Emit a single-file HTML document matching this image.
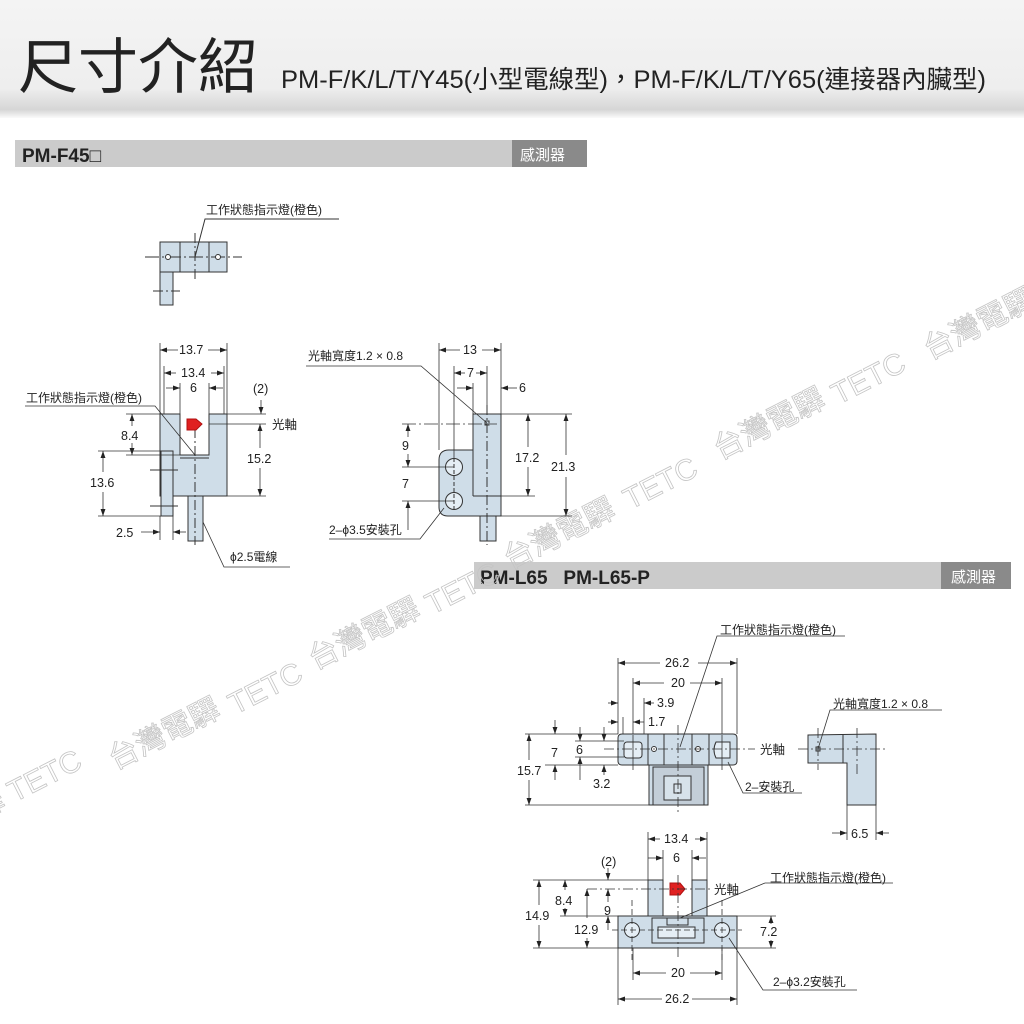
<!DOCTYPE html>
<html><head><meta charset="utf-8"><style>
html,body{margin:0;padding:0;background:#fff;width:1024px;height:1024px;overflow:hidden}
svg{display:block}
text{font-family:"Liberation Sans","Noto Sans CJK TC",sans-serif;fill:#222}
</style></head><body>
<svg width="1024" height="1024" viewBox="0 0 1024 1024" xmlns="http://www.w3.org/2000/svg">
<defs>
<linearGradient id="hg" x1="0" y1="0" x2="0" y2="1">
<stop offset="0" stop-color="#f4f4f4"/><stop offset="0.75" stop-color="#eeeeee"/><stop offset="0.93" stop-color="#d6d6d6"/><stop offset="1" stop-color="#fafafa"/></linearGradient>
<marker id="a" viewBox="0 0 10 10" refX="10" refY="5" markerWidth="7" markerHeight="7" orient="auto-start-reverse" markerUnits="userSpaceOnUse"><path d="M0,1.5 L10,5 L0,8.5z" fill="#222"/></marker>
</defs>
<rect x="0" y="0" width="1024" height="118" fill="url(#hg)"/>
<text x="18" y="88" font-size="60" style="font-family:'Noto Sans CJK TC',sans-serif" fill="#111">尺寸介紹</text>
<text x="281" y="88" font-size="25" textLength="705" lengthAdjust="spacingAndGlyphs" style="font-family:'Liberation Sans Narrow','Liberation Sans','Noto Sans CJK TC',sans-serif">PM-F/K/L/T/Y45(小型電線型)，PM-F/K/L/T/Y65(連接器內臟型)</text>

<!-- bars -->
<rect x="15" y="140" width="572" height="27" fill="#cbcbcb"/>
<rect x="512" y="140" width="75" height="27" fill="#8a8a8a"/>
<text x="22" y="162" font-size="19" font-weight="bold">PM-F45□</text>
<text x="520" y="160" font-size="15" style="fill:#fff">感測器</text>
<rect x="474" y="562" width="537" height="27" fill="#cbcbcb"/>
<rect x="941" y="562" width="70" height="27" fill="#8a8a8a"/>
<text x="480" y="584" font-size="19" font-weight="bold" xml:space="preserve">PM-L65   PM-L65-P</text>
<text x="951" y="582" font-size="15" style="fill:#fff">感測器</text>

<!-- watermarks -->
<g font-size="30">
<text transform="translate(-20,820) rotate(-27)" style="fill:none;stroke:#c4c4c4;stroke-width:0.8">驛 TETC</text>
<text transform="translate(115,770) rotate(-27)" style="fill:none;stroke:#c4c4c4;stroke-width:0.8">台灣電驛</text>
<text transform="translate(235,715) rotate(-27)" style="fill:none;stroke:#c4c4c4;stroke-width:0.8">TETC</text>
<text transform="translate(315,670) rotate(-27)" style="fill:none;stroke:#c4c4c4;stroke-width:0.8">台灣電驛</text>
<text transform="translate(432,615) rotate(-27)" style="fill:none;stroke:#c4c4c4;stroke-width:0.8">TETC</text>
<text transform="translate(510,570) rotate(-27)" style="fill:none;stroke:#c4c4c4;stroke-width:0.8">台灣電驛</text>
<text transform="translate(630,510) rotate(-27)" style="fill:none;stroke:#c4c4c4;stroke-width:0.8">TETC</text>
<text transform="translate(720,460) rotate(-27)" style="fill:none;stroke:#c4c4c4;stroke-width:0.8">台灣電驛</text>
<text transform="translate(838,405) rotate(-27)" style="fill:none;stroke:#c4c4c4;stroke-width:0.8">TETC</text>
<text transform="translate(930,360) rotate(-27)" style="fill:none;stroke:#c4c4c4;stroke-width:0.8">台灣電驛</text>
</g>

<g stroke="#333" stroke-width="1" fill="none">
<!-- ===== F45 top view ===== -->
<rect x="160" y="242" width="67" height="30" fill="#cfdde8"/>
<line x1="180" y1="242" x2="180" y2="272"/><line x1="209" y1="242" x2="209" y2="272"/>
<rect x="160" y="272" width="13" height="33" fill="#cfdde8"/>
<line x1="145" y1="257" x2="242" y2="257" stroke-dasharray="14,3,2,3"/>
<line x1="195" y1="233" x2="195" y2="280" stroke-dasharray="10,3,2,3"/>
<line x1="153" y1="291" x2="180" y2="291" stroke-dasharray="10,3,2,3"/>
<circle cx="168" cy="257" r="2.5" fill="#fff"/><circle cx="218" cy="257" r="2.5" fill="#fff"/>
<polyline points="339,219 205,219 195,257"/>

<!-- ===== F45 front view ===== -->
<polygon points="160,414 180,414 180,455 209,455 209,414 227,414 227,496 160,496" fill="#cfdde8"/>
<line x1="180" y1="458" x2="209" y2="458"/>
<rect x="161" y="451" width="12" height="65" fill="#cfdde8"/>
<rect x="188" y="496" width="15" height="45" fill="#cfdde8"/>
<line x1="195" y1="428" x2="195" y2="545" stroke-dasharray="10,3,2,3"/>
<line x1="150" y1="470" x2="178" y2="470"/><line x1="150" y1="506" x2="178" y2="506"/>
<polygon points="187,419 196,419 202,424 196,430 187,430" fill="#e02020" stroke="#b01010"/>
<g stroke-width="0.8">
<line x1="160" y1="343" x2="160" y2="414"/><line x1="227" y1="343" x2="227" y2="414"/>
<line x1="160" y1="350" x2="178" y2="350" marker-start="url(#a)"/><line x1="208" y1="350" x2="227" y2="350" marker-end="url(#a)"/>
<line x1="164" y1="366" x2="164" y2="414"/><line x1="224" y1="366" x2="224" y2="414"/>
<line x1="164" y1="373" x2="176" y2="373" marker-start="url(#a)"/><line x1="211" y1="373" x2="224" y2="373" marker-end="url(#a)"/>
<line x1="180" y1="383" x2="180" y2="414"/><line x1="209" y1="383" x2="209" y2="414"/>
<line x1="166" y1="388" x2="180" y2="388" marker-end="url(#a)"/><line x1="223" y1="388" x2="209" y2="388" marker-end="url(#a)"/>
<line x1="261" y1="400" x2="261" y2="414" marker-end="url(#a)"/>
<line x1="227" y1="414" x2="266" y2="414"/>
<line x1="209" y1="424" x2="266" y2="424"/>
<line x1="260" y1="424" x2="260" y2="448" marker-start="url(#a)"/><line x1="260" y1="468" x2="260" y2="496" marker-end="url(#a)"/>
<line x1="227" y1="496" x2="266" y2="496"/>
<line x1="126" y1="414" x2="160" y2="414"/><line x1="126" y1="455" x2="180" y2="455"/>
<line x1="132" y1="414" x2="132" y2="426" marker-start="url(#a)"/><line x1="132" y1="443" x2="132" y2="455" marker-end="url(#a)"/>
<line x1="98" y1="451" x2="161" y2="451"/><line x1="98" y1="516" x2="161" y2="516"/>
<line x1="103" y1="451" x2="103" y2="472" marker-start="url(#a)"/><line x1="103" y1="492" x2="103" y2="516" marker-end="url(#a)"/>
<line x1="160" y1="516" x2="160" y2="540"/><line x1="173" y1="516" x2="173" y2="540"/>
<line x1="141" y1="532" x2="160" y2="532" marker-end="url(#a)"/><line x1="186" y1="532" x2="173" y2="532" marker-end="url(#a)"/>
</g>
<polyline points="25,406 155,406 195,455" stroke-width="0.8"/>
<polyline points="290,567 224,567 203,522" stroke-width="0.8"/>

<!-- ===== F45 side view ===== -->
<path d="M473,414 H501 V516 H448 Q439,516 439,507 V460 Q439,450 449,450 H473 Z" fill="#cfdde8"/>
<line x1="473" y1="450" x2="473" y2="496"/><line x1="473" y1="496" x2="501" y2="496"/>
<rect x="480" y="516" width="16" height="25" fill="#cfdde8"/>
<circle cx="454" cy="467" r="8.5" fill="#e5eef5"/><circle cx="454" cy="501" r="8.5" fill="#e5eef5"/>
<rect x="485" y="421" width="4" height="4"/>
<line x1="487" y1="405" x2="487" y2="545" stroke-dasharray="10,3,2,3"/>
<line x1="454" y1="458" x2="454" y2="510" stroke-dasharray="4,2"/>
<g stroke-width="0.8">
<line x1="402" y1="424" x2="497" y2="424" stroke-dasharray="14,3,2,3"/>
<line x1="402" y1="467" x2="454" y2="467"/><line x1="402" y1="501" x2="454" y2="501"/>
<line x1="408" y1="424" x2="408" y2="437" marker-start="url(#a)"/><line x1="408" y1="454" x2="408" y2="467" marker-end="url(#a)"/>
<line x1="408" y1="530" x2="408" y2="501" marker-end="url(#a)"/>
<line x1="439" y1="343" x2="439" y2="450"/><line x1="501" y1="343" x2="501" y2="414"/>
<line x1="439" y1="350" x2="460" y2="350" marker-start="url(#a)"/><line x1="482" y1="350" x2="501" y2="350" marker-end="url(#a)"/>
<line x1="454" y1="366" x2="454" y2="458"/><line x1="487" y1="366" x2="487" y2="405"/>
<line x1="454" y1="373" x2="465" y2="373" marker-start="url(#a)"/><line x1="476" y1="373" x2="487" y2="373" marker-end="url(#a)"/>
<line x1="473" y1="383" x2="473" y2="414"/>
<line x1="457" y1="388" x2="473" y2="388" marker-end="url(#a)"/><line x1="517" y1="388" x2="501" y2="388" marker-end="url(#a)"/>
<line x1="501" y1="414" x2="572" y2="414"/><line x1="501" y1="496" x2="535" y2="496"/><line x1="501" y1="516" x2="572" y2="516"/>
<line x1="528" y1="414" x2="528" y2="447" marker-start="url(#a)"/><line x1="528" y1="467" x2="528" y2="496" marker-end="url(#a)"/>
<line x1="566" y1="414" x2="566" y2="455" marker-start="url(#a)"/><line x1="566" y1="477" x2="566" y2="516" marker-end="url(#a)"/>
</g>
<polyline points="306,366 421,366 487,423" stroke-width="0.8"/>
<polyline points="329,539 420,539 444,508" stroke-width="0.8"/>

<!-- ===== L65 top view ===== -->
<path d="M622,734 H733 Q737,734 737,738 V761 Q737,765 733,765 H622 Q618,765 618,761 V738 Q618,734 622,734Z" fill="#cfdde8"/>
<line x1="648" y1="734" x2="648" y2="765"/><line x1="664" y1="734" x2="664" y2="765"/><line x1="692" y1="734" x2="692" y2="765"/><line x1="709" y1="734" x2="709" y2="765"/>
<rect x="649" y="765" width="59" height="40" fill="#cfdde8"/>
<rect x="653" y="767" width="51" height="38" fill="#c3ced8"/>
<rect x="664" y="776" width="27" height="24" fill="#d7e2ea"/>
<rect x="674" y="784" width="7" height="9"/>
<rect x="624" y="742" width="18" height="16" rx="3" fill="#e5eef5"/>
<path d="M716,742 H730 V758 H716 Q712,750 716,742Z" fill="#e5eef5"/>
<circle cx="654" cy="749" r="2.5" fill="#fff"/><circle cx="698" cy="749" r="2.5" fill="#fff"/>
<line x1="604" y1="749" x2="755" y2="749" stroke-dasharray="10,3,2,3" stroke-width="0.8"/>
<line x1="678" y1="725" x2="678" y2="815" stroke-dasharray="10,3,2,3" stroke-width="0.8"/>
<line x1="633" y1="735" x2="633" y2="770" stroke-width="0.8"/><line x1="722" y1="735" x2="722" y2="770" stroke-width="0.8"/>
<g stroke-width="0.8">
<line x1="618" y1="658" x2="618" y2="734"/><line x1="737" y1="658" x2="737" y2="734"/>
<line x1="618" y1="663" x2="660" y2="663" marker-start="url(#a)"/><line x1="698" y1="663" x2="737" y2="663" marker-end="url(#a)"/>
<line x1="633" y1="678" x2="633" y2="734"/><line x1="722" y1="678" x2="722" y2="734"/>
<line x1="633" y1="683" x2="664" y2="683" marker-start="url(#a)"/><line x1="690" y1="683" x2="722" y2="683" marker-end="url(#a)"/>
<line x1="644" y1="698" x2="644" y2="734"/>
<line x1="608" y1="703" x2="618" y2="703" marker-end="url(#a)"/><line x1="654" y1="703" x2="644" y2="703" marker-end="url(#a)"/>
<line x1="623" y1="717" x2="623" y2="734"/>
<line x1="608" y1="722" x2="618" y2="722" marker-end="url(#a)"/><line x1="644" y1="722" x2="633" y2="722" marker-end="url(#a)"/>
<line x1="525" y1="734" x2="618" y2="734"/><line x1="525" y1="805" x2="649" y2="805"/>
<line x1="529" y1="734" x2="529" y2="760" marker-start="url(#a)"/><line x1="529" y1="780" x2="529" y2="805" marker-end="url(#a)"/>
<line x1="575" y1="741" x2="624" y2="741"/><line x1="575" y1="757" x2="624" y2="757"/><line x1="545" y1="765" x2="618" y2="765"/>
<line x1="555" y1="720" x2="555" y2="734" marker-end="url(#a)"/><line x1="555" y1="780" x2="555" y2="765" marker-end="url(#a)"/>
<line x1="580" y1="727" x2="580" y2="741" marker-end="url(#a)"/><line x1="580" y1="780" x2="580" y2="757" marker-end="url(#a)"/>
<line x1="604" y1="727" x2="604" y2="741" marker-end="url(#a)"/><line x1="604" y1="775" x2="604" y2="765" marker-end="url(#a)"/>
</g>
<polyline points="845,636 717,636 680,747" stroke-width="0.8"/>
<polyline points="802,793 743,793 728,762" stroke-width="0.8"/>

<!-- ===== L65 side view ===== -->
<polygon points="808,735 876,734 876,805 847,805 847,763 808,763" fill="#cfdde8"/>
<line x1="843" y1="734" x2="843" y2="763"/>
<rect x="816" y="747" width="4" height="4"/>
<g stroke-width="0.8">
<line x1="798" y1="749" x2="885" y2="749" stroke-dasharray="10,3,2,3"/>
<line x1="857" y1="728" x2="857" y2="775" stroke-dasharray="10,3,2,3"/>
<line x1="818" y1="728" x2="818" y2="770" stroke-dasharray="10,3,2,3"/>
<line x1="847" y1="805" x2="847" y2="840"/><line x1="876" y1="805" x2="876" y2="840"/>
<line x1="832" y1="833" x2="847" y2="833" marker-end="url(#a)"/><line x1="889" y1="833" x2="876" y2="833" marker-end="url(#a)"/>
</g>
<polyline points="942,710 830,710 818,749" stroke-width="0.8"/>

<!-- ===== L65 front view ===== -->
<rect x="648" y="880" width="15" height="37" fill="#cfdde8"/>
<rect x="692" y="880" width="15" height="37" fill="#cfdde8"/>
<rect x="618" y="916" width="119" height="32" fill="#cfdde8"/>
<rect x="652" y="918" width="52" height="25" fill="#cfdde8"/>
<rect x="658" y="927" width="37" height="11" fill="#e5eef5"/>
<rect x="667" y="918" width="21" height="7" fill="#cfdde8"/>
<circle cx="632" cy="930" r="7.5" fill="#e5eef5"/><circle cx="722" cy="930" r="7.5" fill="#e5eef5"/>
<polygon points="670,883 680,883 685,889 680,895 670,895" fill="#e02020" stroke="#b01010"/>
<g stroke-width="0.8">
<line x1="678" y1="875" x2="678" y2="960" stroke-dasharray="10,3,2,3"/>
<line x1="587" y1="889" x2="713" y2="889" stroke-dasharray="10,3,2,3"/>
<line x1="632" y1="900" x2="632" y2="960" stroke-dasharray="6,3"/><line x1="722" y1="900" x2="722" y2="960" stroke-dasharray="6,3"/>
<line x1="612" y1="930" x2="742" y2="930" stroke-dasharray="6,3"/>
<line x1="648" y1="832" x2="648" y2="880"/><line x1="707" y1="832" x2="707" y2="880"/>
<line x1="648" y1="839" x2="660" y2="839" marker-start="url(#a)"/><line x1="695" y1="839" x2="707" y2="839" marker-end="url(#a)"/>
<line x1="663" y1="850" x2="663" y2="880"/><line x1="692" y1="850" x2="692" y2="880"/>
<line x1="648" y1="858" x2="663" y2="858" marker-end="url(#a)"/><line x1="706" y1="858" x2="692" y2="858" marker-end="url(#a)"/>
<line x1="608" y1="868" x2="608" y2="880" marker-end="url(#a)"/>
<line x1="533" y1="880" x2="648" y2="880"/><line x1="560" y1="916" x2="618" y2="916"/><line x1="533" y1="948" x2="618" y2="948"/>
<line x1="539" y1="880" x2="539" y2="905" marker-start="url(#a)"/><line x1="539" y1="925" x2="539" y2="948" marker-end="url(#a)"/>
<line x1="565" y1="880" x2="565" y2="890" marker-start="url(#a)"/><line x1="565" y1="908" x2="565" y2="916" marker-end="url(#a)"/>
<line x1="608" y1="889" x2="608" y2="902" marker-start="url(#a)"/>
<line x1="608" y1="930" x2="608" y2="916" marker-end="url(#a)"/>
<line x1="587" y1="889" x2="587" y2="918" marker-start="url(#a)"/><line x1="587" y1="938" x2="587" y2="948" marker-end="url(#a)"/>
<line x1="707" y1="916" x2="776" y2="916"/><line x1="737" y1="948" x2="776" y2="948"/>
<line x1="771" y1="916" x2="771" y2="924" marker-start="url(#a)"/><line x1="771" y1="940" x2="771" y2="948" marker-end="url(#a)"/>
<line x1="633" y1="948" x2="633" y2="980"/><line x1="722" y1="948" x2="722" y2="980"/>
<line x1="633" y1="973" x2="666" y2="973" marker-start="url(#a)"/><line x1="690" y1="973" x2="722" y2="973" marker-end="url(#a)"/>
<line x1="618" y1="948" x2="618" y2="1005"/><line x1="737" y1="948" x2="737" y2="1005"/>
<line x1="618" y1="999" x2="662" y2="999" marker-start="url(#a)"/><line x1="692" y1="999" x2="737" y2="999" marker-end="url(#a)"/>
</g>
<polyline points="893,883 765,883 680,918" stroke-width="0.8"/>
<polyline points="857,990 763,990 729,938" stroke-width="0.8"/>
</g>

<!-- labels -->
<g font-size="12.5">
<text x="206" y="214" font-size="12">工作狀態指示燈(橙色)</text>
<text x="26" y="402" font-size="12">工作狀態指示燈(橙色)</text>
<text x="179" y="354">13.7</text>
<text x="181" y="377">13.4</text>
<text x="190" y="392">6</text>
<text x="253" y="393">(2)</text>
<text x="272" y="429">光軸</text>
<text x="247" y="463">15.2</text>
<text x="121" y="440">8.4</text>
<text x="90" y="487">13.6</text>
<text x="116" y="537">2.5</text>
<text x="230" y="561" font-size="12">ϕ2.5電線</text>
<text x="308" y="360" font-size="12">光軸寬度1.2 × 0.8</text>
<text x="463" y="354">13</text>
<text x="467" y="377">7</text>
<text x="519" y="392">6</text>
<text x="402" y="450">9</text>
<text x="402" y="488">7</text>
<text x="515" y="462">17.2</text>
<text x="551" y="471">21.3</text>
<text x="329" y="534" font-size="12">2–ϕ3.5安裝孔</text>

<text x="720" y="634" font-size="12">工作狀態指示燈(橙色)</text>
<text x="665" y="667">26.2</text>
<text x="671" y="687">20</text>
<text x="657" y="707">3.9</text>
<text x="648" y="726">1.7</text>
<text x="760" y="754">光軸</text>
<text x="551" y="757">7</text>
<text x="576" y="754">6</text>
<text x="517" y="775">15.7</text>
<text x="593" y="788">3.2</text>
<text x="745" y="791" font-size="12">2–安裝孔</text>
<text x="833" y="708" font-size="12">光軸寬度1.2 × 0.8</text>
<text x="851" y="838">6.5</text>
<text x="664" y="843">13.4</text>
<text x="673" y="862">6</text>
<text x="601" y="866">(2)</text>
<text x="714" y="894">光軸</text>
<text x="770" y="882" font-size="12">工作狀態指示燈(橙色)</text>
<text x="555" y="905">8.4</text>
<text x="525" y="920">14.9</text>
<text x="604" y="915">9</text>
<text x="574" y="934">12.9</text>
<text x="760" y="936">7.2</text>
<text x="671" y="977">20</text>
<text x="665" y="1003">26.2</text>
<text x="773" y="986" font-size="12">2–ϕ3.2安裝孔</text>
</g>
</svg>
</body></html>
